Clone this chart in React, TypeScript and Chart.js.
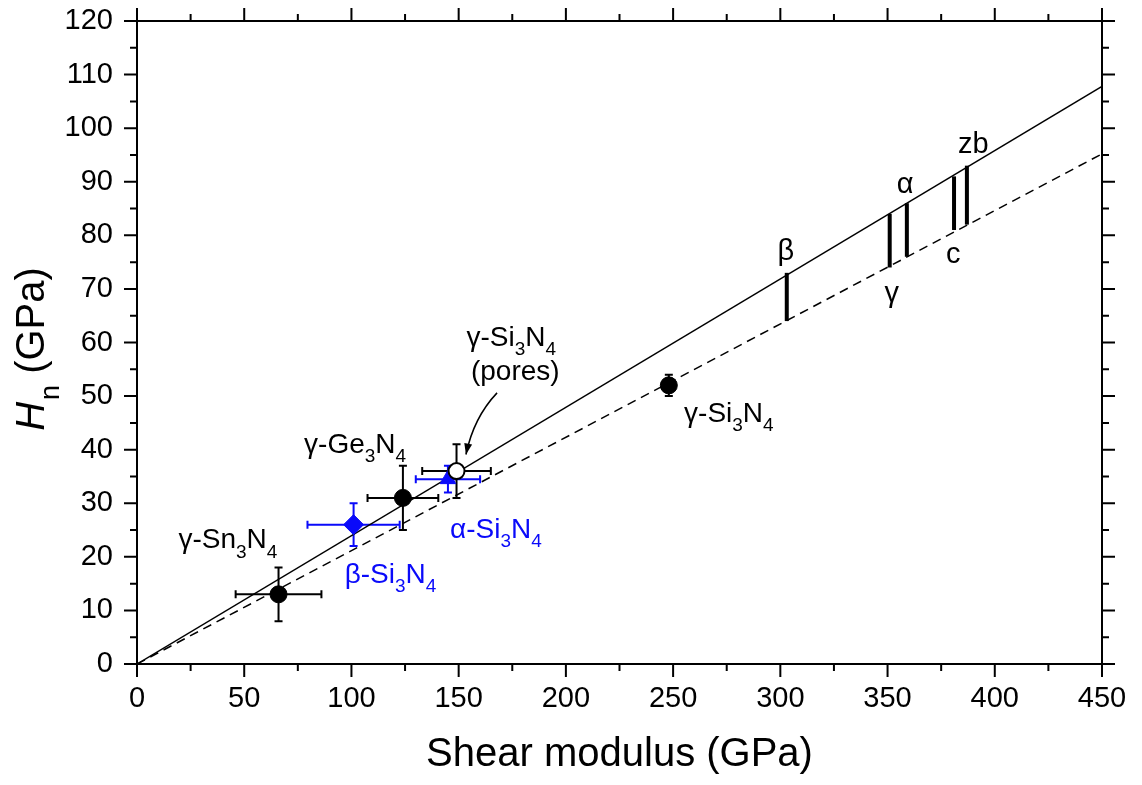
import React, { useEffect, useRef } from 'react';
import { Chart, registerables } from 'chart.js';

Chart.register(...registerables);

const FONT = "'Liberation Sans', Arial, sans-serif";
const BLUE = 'rgb(10,10,250)';

// Linear fits (solid = upper, dashed = lower)
const fitX = [0, 450];
const solidFitY = [0, 107.8];
const dashedFitY = [0, 95.2];

// Black filled circles: γ-Sn3N4, γ-Ge3N4, γ-Si3N4
const blackX = [66, 124, 248];
const blackY = [13, 31, 52];
const blackXErr = [20, 16.5, 0];
const blackYErr = [5, 6, 2];

// Blue diamond: β-Si3N4
const betaX = [101];
const betaY = [26];
const betaXErr = [21.5];
const betaYErr = [4];

// Blue triangle: α-Si3N4
const alphaX = [145];
const alphaY = [34.5];
const alphaXErr = [15];
const alphaYErr = [2.5];

// Open circle: γ-Si3N4 (pores)
const poresX = [149];
const poresY = [36];
const poresXErr = [16];
const poresYErr = [5];

// Calculated polymorph ranges (vertical thick bars)
const polyX = [303, 351, 359, 381, 387];
const polyLow = [64, 74, 76, 81, 82];
const polyHigh = [73, 84, 86, 91, 93];
const polyNames = ['β', 'γ', 'α', 'c', 'zb'];
const polyLabelX = [302.6, 352, 358.2, 380.6, 390];
const polyLabelY = [75.4, 67.5, 87.9, 74.8, 95.4];

// Material labels ("_" marks the next character as subscript)
const labelTexts = ['γ-Sn_3N_4', 'γ-Ge_3N_4', 'β-Si_3N_4', 'α-Si_3N_4', 'γ-Si_3N_4', '(pores)', 'γ-Si_3N_4'];
const labelX = [42.4, 101.7, 118.2, 167.4, 174.5, 176.4, 276];
const labelY = [21.6, 39.4, 15.1, 23.5, 59.3, 53.0, 45.2];
const labelBlue = [false, false, true, true, false, false, false];

// Arrow from "(pores)" label to the open circle
const arrowX = [167.9, 157, 153.4];
const arrowY = [50.6, 46, 39.1];

// Axis ranges and ticks
const xMin = 0, xMax = 450, xStep = 50, xMinor = 25;
const yMin = 0, yMax = 120, yStep = 10, yMinor = 5;

function drawRich(ctx: CanvasRenderingContext2D, text: string, cx: number, by: number, color: string, size: number) {
  const segs: { t: string; sub: boolean }[] = [];
  let cur = '';
  for (let i = 0; i < text.length; i++) {
    if (text[i] === '_' && i + 1 < text.length) {
      if (cur) segs.push({ t: cur, sub: false });
      cur = '';
      segs.push({ t: text[i + 1], sub: true });
      i++;
    } else cur += text[i];
  }
  if (cur) segs.push({ t: cur, sub: false });
  const main = `${size}px ${FONT}`;
  const subSize = Math.round(size * 0.68);
  const sub = `${subSize}px ${FONT}`;
  let total = 0;
  const widths = segs.map((s) => {
    ctx.font = s.sub ? sub : main;
    const w = ctx.measureText(s.t).width;
    total += w;
    return w;
  });
  let x = cx - total / 2;
  ctx.fillStyle = color;
  ctx.textAlign = 'left';
  ctx.textBaseline = 'alphabetic';
  segs.forEach((s, i) => {
    ctx.font = s.sub ? sub : main;
    ctx.fillText(s.t, x, by + (s.sub ? size * 0.33 : 0));
    x += widths[i];
  });
}

const errGroups = [
  { xs: blackX, ys: blackY, xe: blackXErr, ye: blackYErr, color: '#000' },
  { xs: betaX, ys: betaY, xe: betaXErr, ye: betaYErr, color: BLUE },
  { xs: alphaX, ys: alphaY, xe: alphaXErr, ye: alphaYErr, color: BLUE },
  { xs: poresX, ys: poresY, xe: poresXErr, ye: poresYErr, color: '#000' },
];

const errorBarPlugin = {
  id: 'errorBars',
  beforeDatasetsDraw(chart: any) {
    const { ctx, scales } = chart;
    const sx = scales.x, sy = scales.y;
    ctx.save();
    ctx.lineWidth = 2;
    const cap = 4;
    errGroups.forEach((g) => {
      ctx.strokeStyle = g.color;
      g.xs.forEach((xv, i) => {
        const px = sx.getPixelForValue(xv);
        const py = sy.getPixelForValue(g.ys[i]);
        if (g.xe[i] > 0) {
          const x1 = sx.getPixelForValue(xv - g.xe[i]);
          const x2 = sx.getPixelForValue(xv + g.xe[i]);
          ctx.beginPath();
          ctx.moveTo(x1, py); ctx.lineTo(x2, py);
          ctx.moveTo(x1, py - cap); ctx.lineTo(x1, py + cap);
          ctx.moveTo(x2, py - cap); ctx.lineTo(x2, py + cap);
          ctx.stroke();
        }
        if (g.ye[i] > 0) {
          const y1 = sy.getPixelForValue(g.ys[i] - g.ye[i]);
          const y2 = sy.getPixelForValue(g.ys[i] + g.ye[i]);
          ctx.beginPath();
          ctx.moveTo(px, y1); ctx.lineTo(px, y2);
          ctx.moveTo(px - cap, y1); ctx.lineTo(px + cap, y1);
          ctx.moveTo(px - cap, y2); ctx.lineTo(px + cap, y2);
          ctx.stroke();
        }
      });
    });
    ctx.restore();
  },
};

const annotPlugin = {
  id: 'annotations',
  afterDatasetsDraw(chart: any) {
    const { ctx, scales } = chart;
    const sx = scales.x, sy = scales.y;
    ctx.save();
    labelTexts.forEach((t, i) => {
      drawRich(ctx, t, sx.getPixelForValue(labelX[i]), sy.getPixelForValue(labelY[i]), labelBlue[i] ? BLUE : '#000', 28);
    });
    polyNames.forEach((t, i) => {
      drawRich(ctx, t, sx.getPixelForValue(polyLabelX[i]), sy.getPixelForValue(polyLabelY[i]), '#000', 29);
    });
    // arrow
    const p0 = { x: sx.getPixelForValue(arrowX[0]), y: sy.getPixelForValue(arrowY[0]) };
    const pc = { x: sx.getPixelForValue(arrowX[1]), y: sy.getPixelForValue(arrowY[1]) };
    const p1 = { x: sx.getPixelForValue(arrowX[2]), y: sy.getPixelForValue(arrowY[2]) };
    ctx.strokeStyle = '#000';
    ctx.fillStyle = '#000';
    ctx.lineWidth = 1.5;
    ctx.beginPath();
    ctx.moveTo(p0.x, p0.y);
    ctx.quadraticCurveTo(pc.x, pc.y, p1.x, p1.y);
    ctx.stroke();
    const ang = Math.atan2(p1.y - pc.y, p1.x - pc.x);
    const L = 11, W = 4;
    ctx.beginPath();
    ctx.moveTo(p1.x, p1.y);
    ctx.lineTo(p1.x - L * Math.cos(ang) + W * Math.sin(ang), p1.y - L * Math.sin(ang) - W * Math.cos(ang));
    ctx.lineTo(p1.x - L * Math.cos(ang) - W * Math.sin(ang), p1.y - L * Math.sin(ang) + W * Math.cos(ang));
    ctx.closePath();
    ctx.fill();
    ctx.restore();
  },
};

const framePlugin = {
  id: 'frame',
  afterDraw(chart: any) {
    const { ctx, scales, chartArea } = chart;
    const sx = scales.x, sy = scales.y;
    const { left, right, top, bottom } = chartArea;
    ctx.save();
    ctx.strokeStyle = '#000';
    ctx.lineWidth = 2;
    ctx.strokeRect(left, top, right - left, bottom - top);
    const major = 13, minor = 7;
    ctx.beginPath();
    for (let v = xMin; v <= xMax + 1e-9; v += xMinor) {
      const len = Math.abs(v / xStep - Math.round(v / xStep)) < 1e-9 ? major : minor;
      const px = sx.getPixelForValue(v);
      ctx.moveTo(px, bottom); ctx.lineTo(px, bottom + len);
      ctx.moveTo(px, top); ctx.lineTo(px, top - len);
    }
    for (let v = yMin; v <= yMax + 1e-9; v += yMinor) {
      const len = Math.abs(v / yStep - Math.round(v / yStep)) < 1e-9 ? major : minor;
      const py = sy.getPixelForValue(v);
      ctx.moveTo(left, py); ctx.lineTo(left - len, py);
      ctx.moveTo(right, py); ctx.lineTo(right + len, py);
    }
    ctx.stroke();

    // y-axis title: italic H, subscript n, (GPa)
    const size = 40;
    const cy = 349;
    const baseX = 44;
    ctx.fillStyle = '#000';
    ctx.textBaseline = 'alphabetic';
    ctx.textAlign = 'left';
    ctx.font = `italic ${size}px ${FONT}`;
    const wH = ctx.measureText('H').width;
    ctx.font = `27px ${FONT}`;
    const wn = ctx.measureText('n').width;
    ctx.font = `${size}px ${FONT}`;
    const wG = ctx.measureText(' (GPa)').width;
    const total = wH + wn + wG + 2;
    ctx.translate(baseX, cy + total / 2);
    ctx.rotate(-Math.PI / 2);
    ctx.font = `italic ${size}px ${FONT}`;
    ctx.fillText('H', 0, 0);
    ctx.font = `27px ${FONT}`;
    ctx.fillText('n', wH + 2, 15);
    ctx.font = `${size}px ${FONT}`;
    ctx.fillText(' (GPa)', wH + wn + 2, 0);
    ctx.restore();
  },
};

export default function App() {
  const ref = useRef<HTMLCanvasElement | null>(null);
  useEffect(() => {
    if (!ref.current) return;
    const pts = (xs: number[], ys: number[]) => xs.map((x, i) => ({ x, y: ys[i] }));
    const barSets = polyX.map((x, i) => ({
      label: 'poly-' + polyNames[i],
      data: [{ x, y: polyLow[i] }, { x, y: polyHigh[i] }],
      showLine: true,
      borderColor: '#000',
      borderWidth: 4,
      pointRadius: 0,
      borderCapStyle: 'butt',
    }));
    const chart = new Chart(ref.current, {
      type: 'scatter',
      data: {
        datasets: [
          { label: 'pores', data: pts(poresX, poresY), pointStyle: 'circle', pointRadius: 8, backgroundColor: '#fff', borderColor: '#000', borderWidth: 2 },
          { label: 'alpha', data: pts(alphaX, alphaY), pointStyle: 'triangle', pointRadius: 9, backgroundColor: BLUE, borderColor: BLUE, borderWidth: 1 },
          { label: 'beta', data: pts(betaX, betaY), pointStyle: 'rectRot', pointRadius: 10, backgroundColor: BLUE, borderColor: BLUE, borderWidth: 1 },
          { label: 'gamma', data: pts(blackX, blackY), pointStyle: 'circle', pointRadius: 8.5, backgroundColor: '#000', borderColor: '#000', borderWidth: 1 },
          ...barSets,
          { label: 'solid', data: pts(fitX, solidFitY), showLine: true, borderColor: '#000', borderWidth: 1.5, pointRadius: 0 },
          { label: 'dashed', data: pts(fitX, dashedFitY), showLine: true, borderColor: '#000', borderWidth: 1.5, borderDash: [9, 6], pointRadius: 0 },
        ] as any,
      },
      options: {
        responsive: false,
        devicePixelRatio: 1,
        animation: false,
        layout: { padding: { left: 0, top: 21, right: 40, bottom: 0 } },
        plugins: { legend: { display: false }, tooltip: { enabled: false } },
        scales: {
          x: {
            type: 'linear',
            min: xMin,
            max: xMax,
            grid: { display: false, drawTicks: false },
            border: { display: false },
            ticks: { stepSize: xStep, font: { family: FONT, size: 29 }, color: '#000', padding: 18, maxRotation: 0 },
            title: { display: true, text: 'Shear modulus (GPa)', font: { family: FONT, size: 40 }, color: '#000', padding: { top: 0, bottom: 6 } },
            afterFit: (s: any) => { s.height = 121; s.paddingLeft = 0; s.paddingRight = 0; },
          },
          y: {
            type: 'linear',
            min: yMin,
            max: yMax,
            grid: { display: false, drawTicks: false },
            border: { display: false },
            ticks: { stepSize: yStep, font: { family: FONT, size: 29 }, color: '#000', padding: 24 },
            afterFit: (s: any) => { s.width = 137; s.paddingTop = 0; s.paddingBottom = 0; },
          },
        },
      } as any,
      plugins: [errorBarPlugin, annotPlugin, framePlugin],
    });
    return () => chart.destroy();
  }, []);
  return (
    <div style={{ position: 'fixed', left: 0, top: 0, width: 1142, height: 785, background: '#fff' }}>
      <canvas ref={ref} width={1142} height={785} style={{ display: 'block', width: 1142, height: 785 }} />
    </div>
  );
}
